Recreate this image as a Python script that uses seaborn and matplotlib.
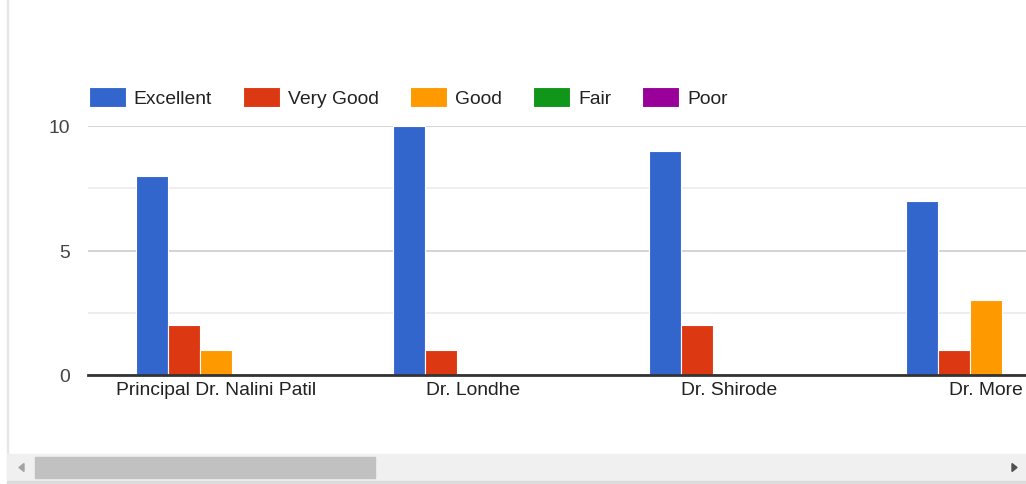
import numpy as np
import pandas as pd
import seaborn as sns
import matplotlib.pyplot as plt
from matplotlib.patches import Rectangle, Polygon

# data
teachers = ["Principal Dr. Nalini Patil", "Dr. Londhe", "Dr. Shirode", "Dr. More"]
ratings = ["Excellent", "Very Good", "Good", "Fair", "Poor"]
excellent = [8, 10, 9, 7]
very_good = [2, 1, 2, 1]
good = [1, 0, 0, 3]
fair = [0, 0, 0, 0]
poor = [0, 0, 0, 0]
palette = ["#3366cc", "#dc3912", "#ff9900", "#109618", "#990099"]

rows = []
for rating, vals in zip(ratings, [excellent, very_good, good, fair, poor]):
    for t, v in zip(teachers, vals):
        rows.append({"teacher": t, "rating": rating, "count": v})
df = pd.DataFrame(rows)

sns.set_theme(style="white")
plt.rcParams["font.family"] = ["Liberation Sans", "DejaVu Sans"]

W, H = 1026, 485
fs = 13.9
fig = plt.figure(figsize=(W / 100, H / 100), dpi=100)

# axes: x from 88px, 4 category slots of ~256.5px each (runs past the right edge)
left, base, top = 88, 376, 127
ax = fig.add_axes([left / W, 1 - base / H, 4 * 256.5 / W, (base - top) / H])

sns.barplot(data=df, x="teacher", y="count", hue="rating", order=teachers,
            hue_order=ratings, palette=palette, width=0.625, saturation=1,
            edgecolor="white", linewidth=0.8, ax=ax, legend=True)

ax.set_xlim(-0.5, 3.5)
ax.set_ylim(0, 10)
ax.set_yticks([0, 5, 10])
ax.set_yticks([2.5, 7.5], minor=True)
ax.grid(axis="y", which="major", color="#cccccc", linewidth=1.2)
ax.grid(axis="y", which="minor", color="#ebebeb", linewidth=1.2)
ax.set_axisbelow(True)
for s in ["top", "right", "left"]:
    ax.spines[s].set_visible(False)
ax.spines["bottom"].set_color("#333333")
ax.spines["bottom"].set_linewidth(2)
ax.spines["bottom"].set_zorder(5)
ax.set_xlabel("")
ax.set_ylabel("")
ax.tick_params(axis="y", which="both", length=0, labelsize=fs, labelcolor="#444444", pad=13)
ax.tick_params(axis="x", length=0, labelsize=fs, labelcolor="#222222", pad=4)

handles, labels = ax.get_legend_handles_labels()
ax.get_legend().remove()
fig.legend(handles, labels, loc="upper left", bbox_to_anchor=(89 / W, 1 - 88 / H),
           ncol=5, frameon=False, fontsize=fs, handlelength=1.9, handleheight=1.2,
           handletextpad=0.42, columnspacing=1.62, borderpad=0, borderaxespad=0,
           labelcolor="#222222")

# container border and horizontal scrollbar
fig.patches.append(Rectangle((7 / W, 1 - 482 / H), 1 / W, 482 / H, transform=fig.transFigure,
                             color="#e6e6e6", zorder=10))
fig.patches.append(Rectangle((7 / W, 1 - 482 / H), (W - 7) / W, 27 / H,
                             transform=fig.transFigure, color="#f0f0f0", zorder=10))
fig.patches.append(Rectangle((7 / W, 1 - 484 / H), (W - 7) / W, 2 / H,
                             transform=fig.transFigure, color="#dcdcdc", zorder=10))
fig.patches.append(Rectangle((35 / W, 1 - 479 / H), 340 / W, 21 / H,
                             transform=fig.transFigure, color="#c1c1c1", zorder=11))
la = [(19, 468.5), (24, 464.5), (24, 472.5)]
fig.patches.append(Polygon([(x / W, 1 - y / H) for x, y in la], closed=True,
                           transform=fig.transFigure, color="#a3a3a3", zorder=11))
ra = [(1017, 468.5), (1012, 464.5), (1012, 472.5)]
fig.patches.append(Polygon([(x / W, 1 - y / H) for x, y in ra], closed=True,
                           transform=fig.transFigure, color="#505050", zorder=11))

fig.savefig("out.png", dpi=100)
